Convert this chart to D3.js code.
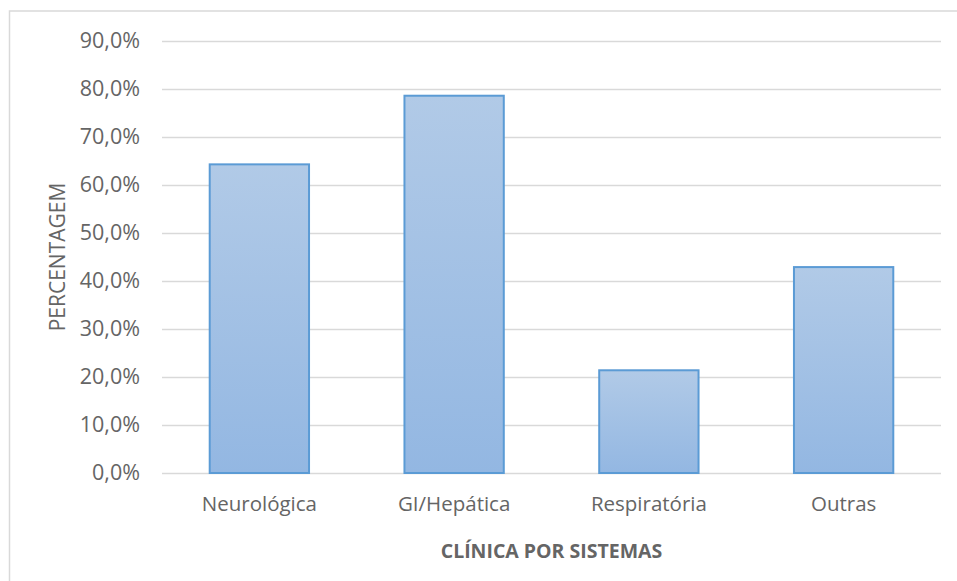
<!DOCTYPE html>
<html><head><meta charset="utf-8">
<script src="https://cdn.jsdelivr.net/npm/d3@7"></script>
<style>html,body{margin:0;padding:0;background:#fff;}svg{display:block;}</style>
</head><body>
<svg id="c" width="957" height="581"></svg>
<script>
const categories = ["Neurológica", "GI/Hepática", "Respiratória", "Outras"];
const values = [0.643, 0.786, 0.214, 0.429];
const yTicks = [0, 0.1, 0.2, 0.3, 0.4, 0.5, 0.6, 0.7, 0.8, 0.9];
const xTitle = "CLÍNICA POR SISTEMAS";
const yTitle = "PERCENTAGEM";

(function () {
const svg = d3.select("#c");
const font = "'Open Sans', sans-serif";
const textColor = "#656565";

// chart border
svg.append("rect").attr("x", 9.5).attr("y", 11).attr("width", 960).attr("height", 600)
  .attr("fill", "none").attr("stroke", "#d9d9d9").attr("stroke-width", 1.5);

const mLeft = 162, mRight = 941, mTop = 41, mBottom = 473;
const x = d3.scaleBand().domain(categories).range([mLeft, mRight]).paddingInner(0.49).paddingOuter(0.245);
const y = d3.scaleLinear().domain([0, 0.9]).range([mBottom, mTop]);

const defs = svg.append("defs");
const grad = defs.append("linearGradient").attr("id", "bg").attr("x1", 0).attr("y1", 0).attr("x2", 0).attr("y2", 1);
grad.append("stop").attr("offset", "0%").attr("stop-color", "#b1cae7");
grad.append("stop").attr("offset", "100%").attr("stop-color", "#93b7e2");

// gridlines
const fmt = v => d3.format(".1f")(v * 100).replace(".", ",") + "%";
const yAxis = d3.axisLeft(y).tickValues(yTicks).tickSize(-(mRight - mLeft)).tickPadding(22).tickFormat(fmt);
const gy = svg.append("g").attr("transform", `translate(${mLeft},0)`).call(yAxis);
gy.select(".domain").remove();
gy.selectAll(".tick line").attr("stroke", "#d9d9d9").attr("stroke-width", 1.5);
gy.selectAll(".tick text").attr("fill", textColor).style("font-family", font).style("font-size", "21.5px");

// bars
svg.append("g").selectAll("rect").data(values).join("rect")
  .attr("x", (d, i) => x(categories[i]))
  .attr("y", d => y(d))
  .attr("width", x.bandwidth())
  .attr("height", d => mBottom - y(d))
  .attr("fill", "url(#bg)")
  .attr("stroke", "#5b9bd5").attr("stroke-width", 2);

// x axis
const xAxis = d3.axisBottom(x).tickSize(0).tickPadding(23);
const gx = svg.append("g").attr("transform", `translate(0,${mBottom})`).call(xAxis);
gx.select(".domain").remove();
gx.selectAll(".tick text").attr("fill", textColor).style("font-family", font).style("font-size", "20.5px");

// titles
svg.append("text").attr("x", (mLeft + mRight) / 2).attr("y", 558).attr("text-anchor", "middle")
  .attr("fill", textColor).style("font-family", font).style("font-size", "19.5px").style("font-weight", "bold")
  .text(xTitle);
svg.append("text").attr("transform", `translate(64.5,${(mTop + mBottom) / 2}) rotate(-90)`).attr("text-anchor", "middle")
  .attr("fill", textColor).style("font-family", font).style("font-size", "21px")
  .text(yTitle);
})();
</script>
</body></html>
